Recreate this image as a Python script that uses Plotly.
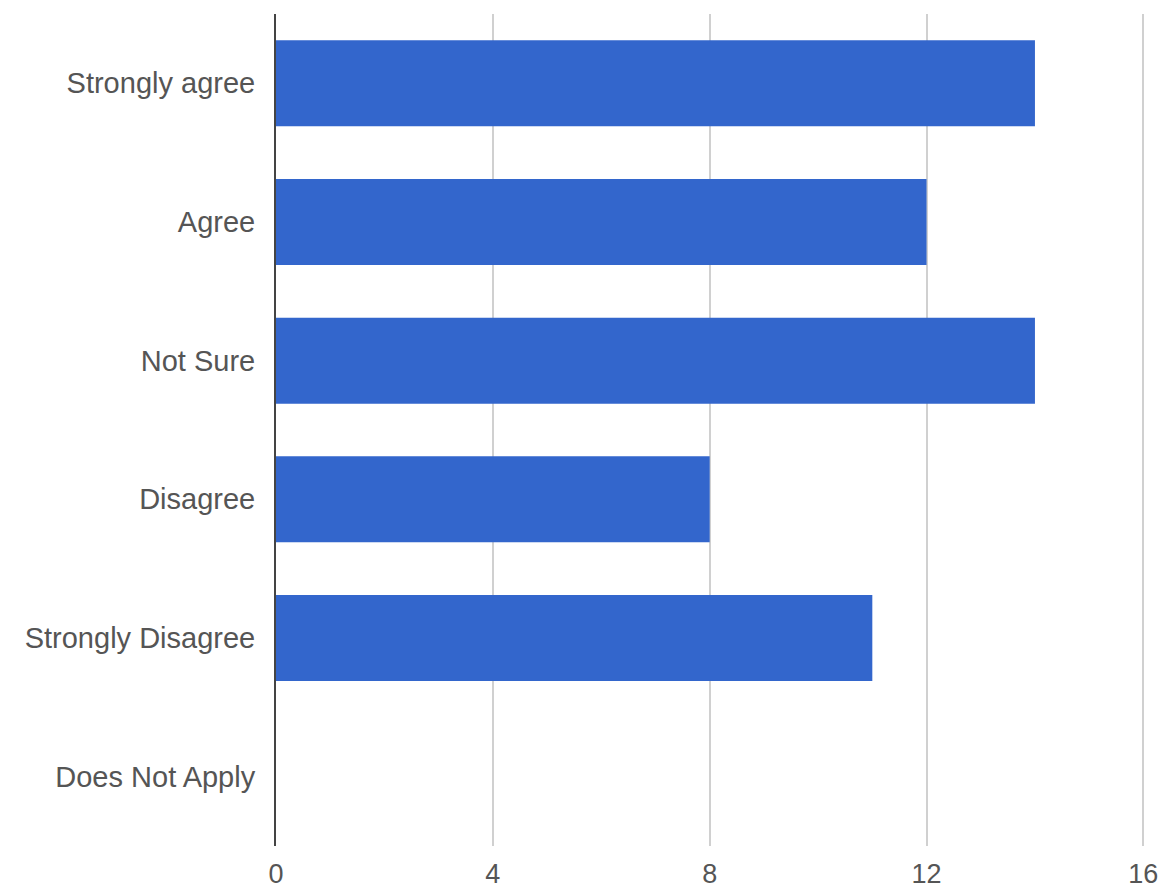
import plotly.graph_objects as go

categories = ["Strongly agree", "Agree", "Not Sure", "Disagree", "Strongly Disagree", "Does Not Apply"]
values = [14, 12, 14, 8, 11, 0]
x_ticks = [0, 4, 8, 12, 16]

fig = go.Figure(go.Bar(
    x=values, y=categories, orientation="h",
    marker=dict(color="#3366CC", line=dict(width=0)),
))

fig.update_layout(
    width=1171, height=890,
    margin=dict(l=276, r=26, t=14, b=44, autoexpand=False),
    paper_bgcolor="white", plot_bgcolor="white",
    bargap=0.38,
    showlegend=False,
    font=dict(family="Liberation Sans, Arial, sans-serif", size=29, color="#555555"),
)
fig.update_xaxes(
    range=[0, 16.03], tickvals=x_ticks, ticktext=[str(v) for v in x_ticks],
    showgrid=True, gridcolor="#d0d0d0", gridwidth=2,
    zeroline=False, showline=False, automargin=False,
    ticks="", tickfont=dict(size=27), ticklabelstandoff=9,
)
fig.update_yaxes(
    categoryorder="array", categoryarray=categories[::-1],
    showgrid=False, zeroline=False, automargin=False,
    showline=True, linecolor="#444444", linewidth=2,
    ticks="outside", ticklen=13, tickcolor="rgba(0,0,0,0)",
)

fig.write_html("out.html")
